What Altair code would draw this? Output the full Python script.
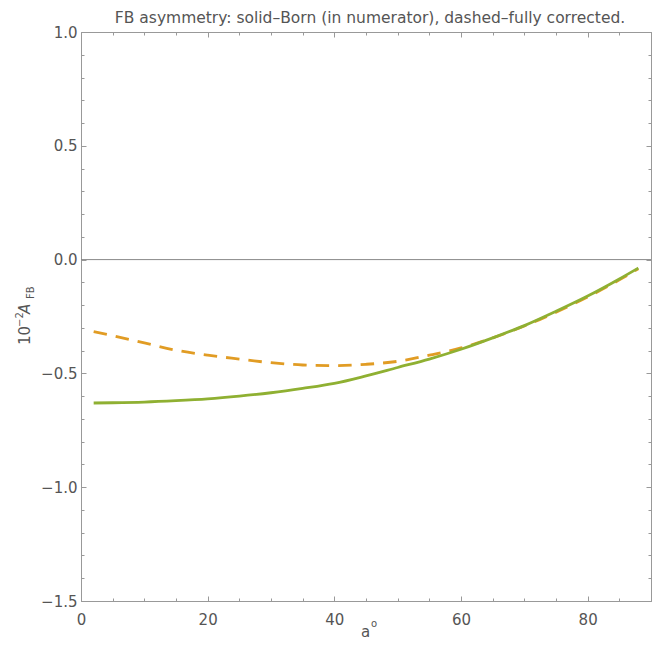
import altair as alt
import pandas as pd

# ---- data ----
angle_deg = [2, 5, 10, 15, 20, 25, 30, 35, 40, 45, 50, 55, 60, 65, 70, 75, 80, 85, 88]
afb_born = [-0.630, -0.629, -0.626, -0.620, -0.612, -0.600, -0.585, -0.566, -0.544, -0.511,
            -0.474, -0.437, -0.394, -0.344, -0.290, -0.227, -0.160, -0.085, -0.037]
afb_full = [-0.316, -0.334, -0.366, -0.398, -0.420, -0.437, -0.453, -0.463, -0.466, -0.460,
            -0.447, -0.420, -0.388, -0.344, -0.292, -0.231, -0.164, -0.089, -0.040]

x_ticks = [0, 5, 10, 15, 20, 25, 30, 35, 40, 45, 50, 55, 60, 65, 70, 75, 80, 85, 90]
y_ticks = [round(-1.5 + 0.1 * i, 1) for i in range(26)]

born_df = pd.DataFrame({"a": angle_deg, "afb": afb_born})
full_df = pd.DataFrame({"a": angle_deg, "afb": afb_full})
zero_df = pd.DataFrame({"afb": [0.0]})
one_df = pd.DataFrame({"k": [0]})

FONT = "DejaVu Sans"
GRAY = "#999999"
LABEL = "#555555"

x_major = "datum.value % 20 === 0"
y_major = "abs(round(datum.value * 10) % 5) === 0"

x_scale = alt.Scale(domain=[0, 90], nice=False, zero=False)
y_scale = alt.Scale(domain=[-1.5, 1.0], nice=False, zero=False)

common = dict(grid=False, title=None, domainColor=GRAY, domainWidth=1, tickColor=GRAY,
              tickWidth=1, labelColor=LABEL, labelFont=FONT, labelFontSize=15,
              labelOverlap=False, labelFlush=False, labelBound=False)

x_bottom = alt.Axis(orient="bottom", values=x_ticks,
                    labelExpr=f"{x_major} ? datum.label : ''",
                    tickSize={"condition": {"test": x_major, "value": -5}, "value": -3},
                    labelPadding=16, **common)
x_top = alt.Axis(orient="top", values=x_ticks, labels=False,
                 tickSize={"condition": {"test": x_major, "value": -5}, "value": -3},
                 **common)
y_left = alt.Axis(orient="left", values=y_ticks, format=".1f",
                  labelExpr=f"{y_major} ? datum.label : ''",
                  tickSize={"condition": {"test": y_major, "value": -5}, "value": -3},
                  labelPadding=9, **common)
y_right = alt.Axis(orient="right", values=y_ticks, labels=False,
                   tickSize={"condition": {"test": y_major, "value": -5}, "value": -3},
                   **common)

zero_rule = alt.Chart(zero_df).mark_rule(color="#888888", strokeWidth=1).encode(
    y=alt.Y("afb:Q", scale=y_scale, axis=None))

dashed = alt.Chart(full_df).mark_line(color="#E19C24", strokeWidth=2.8,
                                      strokeDash=[13.5, 9], interpolate="monotone").encode(
    x=alt.X("a:Q", scale=x_scale, axis=x_top),
    y=alt.Y("afb:Q", scale=y_scale, axis=y_right))

solid = alt.Chart(born_df).mark_line(color="#8FB032", strokeWidth=2.8,
                                     interpolate="monotone").encode(
    x=alt.X("a:Q", scale=x_scale, axis=x_bottom),
    y=alt.Y("afb:Q", scale=y_scale, axis=y_left))


def txt(s, x, y, size, angle=0, style="normal", align="left"):
    return alt.Chart(one_df).mark_text(
        text=s, font=FONT, fontSize=size, fontStyle=style, color=LABEL,
        angle=angle, align=align, baseline="alphabetic").encode(
        x=alt.value(x), y=alt.value(y))


# y-axis title 10^-2 A_FB (rotated)
ytitle = [
    txt("10", -51, 313, 15, angle=270),
    txt("\u22122", -58, 295, 10, angle=270),
    txt("A", -51, 282, 15, angle=270, style="italic"),
    txt("FB", -47, 267, 10, angle=270),
]
# x-axis title a^o
xtitle = [
    txt("a", 280, 605, 15),
    txt("o", 290, 595, 10),
]

chart = alt.layer(zero_rule, dashed, solid, *ytitle, *xtitle).resolve_axis(
    x="independent", y="independent"
).properties(
    width=570, height=569,
    title=alt.TitleParams(
        "FB asymmetry: solid\u2013Born (in numerator), dashed\u2013fully corrected.",
        font=FONT, fontSize=15.5, fontWeight="normal", color=LABEL,
        anchor="middle", offset=-1, dx=4),
    autosize=alt.AutoSizeParams(type="none"),
    padding={"left": 73, "top": 24, "right": 8, "bottom": 42},
).configure_view(stroke=None).configure(background="white")

chart.save("out.html", embed_options={"renderer": "svg", "actions": False})
